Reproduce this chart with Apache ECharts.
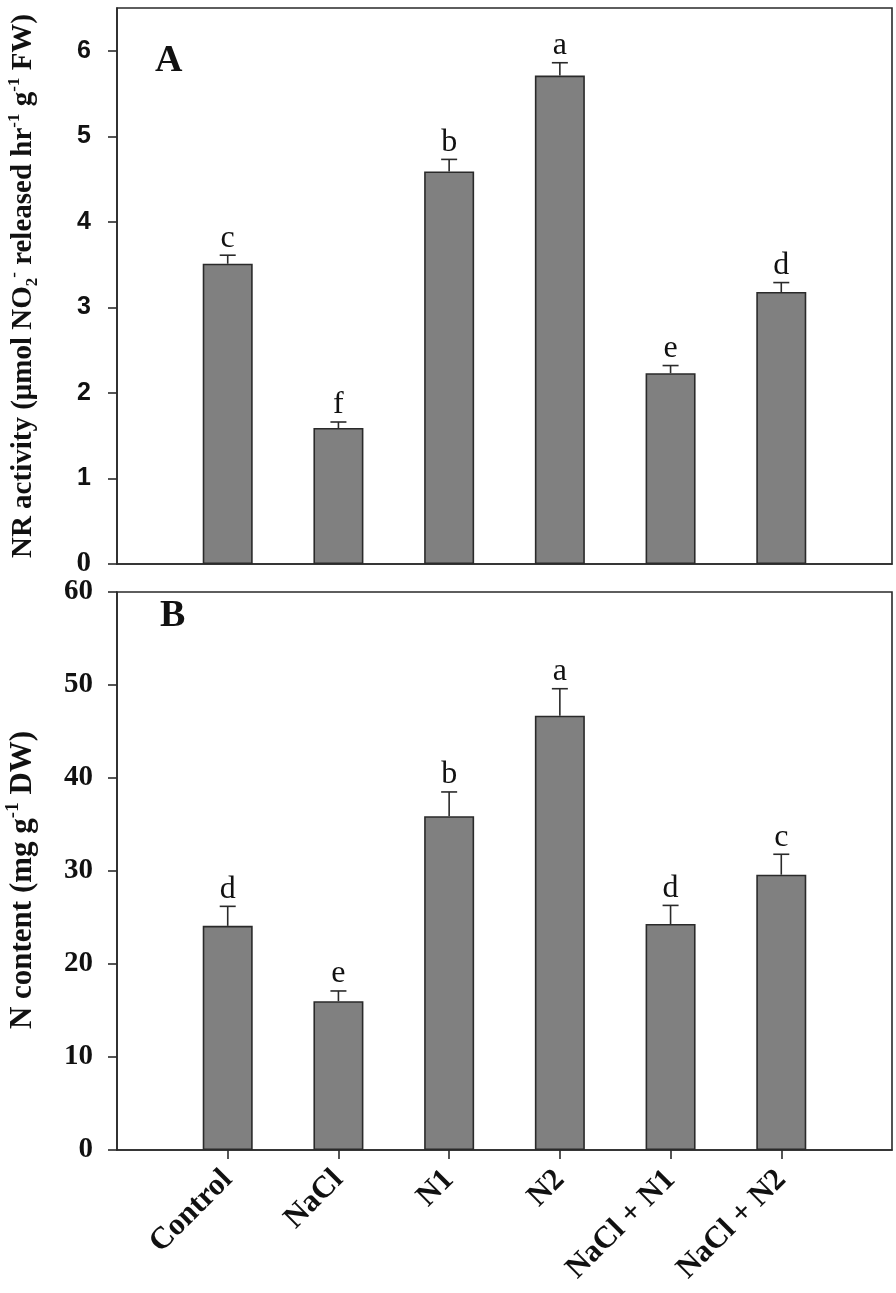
<!DOCTYPE html>
<html><head><meta charset="utf-8">
<script src="https://cdn.jsdelivr.net/npm/echarts@6/dist/echarts.min.js"></script>
<style>html,body{margin:0;padding:0;background:#fff}#c{width:896px;height:1293px}</style>
</head><body><div id="c"></div>
<script>
const categories = ['Control', 'NaCl', 'N1', 'N2', 'NaCl + N1', 'NaCl + N2'];
const nrActivity = [3.51, 1.59, 4.59, 5.71, 2.23, 3.18];
const nrError = [0.10, 0.07, 0.14, 0.15, 0.09, 0.11];
const nrLetters = ['c', 'f', 'b', 'a', 'e', 'd'];
const nContent = [24.1, 16.0, 35.9, 46.7, 24.3, 29.6];
const nError = [2.1, 1.1, 2.6, 2.9, 2.0, 2.2];
const nLetters = ['d', 'e', 'b', 'a', 'd', 'c'];
const nrTicks = [0, 1, 2, 3, 4, 5, 6];
const nTicks = [0, 10, 20, 30, 40, 50, 60];

const SERIF = '"Liberation Serif","Times New Roman",serif';
const SANS = '"Liberation Sans",Arial,sans-serif';
const LINE = '#2a2a2a';

const slots = [''].concat(categories, ['']);
const pad = arr => [null].concat(arr, [null]);

function errRenderer(letters) {
  return function (params, api) {
    const idx = api.value(0), v = api.value(1), e = api.value(2);
    const p0 = api.coord([idx, v]);
    const p1 = api.coord([idx, v + e]);
    const hw = 8;
    return {
      type: 'group',
      children: [
        {type: 'line', shape: {x1: p0[0], y1: p0[1], x2: p1[0], y2: p1[1]}, style: {stroke: LINE, lineWidth: 1.6}},
        {type: 'line', shape: {x1: p1[0] - hw, y1: p1[1], x2: p1[0] + hw, y2: p1[1]}, style: {stroke: LINE, lineWidth: 1.6}},
        {type: 'text', style: {text: letters[params.dataIndex], x: p1[0], y: p1[1] - 1, align: 'center', verticalAlign: 'bottom', fontSize: 32, fontFamily: SERIF, fill: '#111'}}
      ]
    };
  };
}

const tickHide = (i) => i > 0 && i < slots.length - 1;

function richTitle(size) {
  const sub = Math.round(size * 0.6);
  return {
    t: {fontSize: size, fontWeight: 'bold', fontFamily: SERIF, color: '#111', lineHeight: size + 6},
    sup: {fontSize: sub, fontWeight: 'bold', fontFamily: SERIF, color: '#111', verticalAlign: 'top', lineHeight: size + 6},
    sub: {fontSize: sub, fontWeight: 'bold', fontFamily: SERIF, color: '#111', verticalAlign: 'bottom', lineHeight: size + 6}
  };
}

const option = {
  animation: false,
  backgroundColor: '#fff',
  grid: [
    {left: 117, top: 8, width: 775, height: 556, containLabel: false, outerBoundsMode: 'none', show: true, borderColor: LINE, borderWidth: 1.6, backgroundColor: 'transparent'},
    {left: 117, top: 592, width: 775, height: 558, containLabel: false, outerBoundsMode: 'none', show: true, borderColor: LINE, borderWidth: 1.6, backgroundColor: 'transparent'}
  ],
  xAxis: [
    {type: 'category', gridIndex: 0, data: slots, boundaryGap: false,
     axisLine: {lineStyle: {color: LINE, width: 1.6}}, axisTick: {show: false}, axisLabel: {show: false}, splitLine: {show: false}},
    {type: 'category', gridIndex: 1, data: slots, boundaryGap: false,
     axisLine: {lineStyle: {color: LINE, width: 1.6}},
     axisTick: {show: true, length: 9, interval: tickHide, lineStyle: {color: LINE, width: 1.6}},
     axisLabel: {interval: 0, rotate: 45, margin: 25, fontSize: 31, fontWeight: 'bold', fontFamily: SERIF, color: '#111'},
     splitLine: {show: false}}
  ],
  yAxis: [
    {type: 'value', gridIndex: 0, min: 0, max: 6.5,
     axisLine: {show: true, lineStyle: {color: LINE, width: 1.6}},
     axisTick: {show: true, length: 9, customValues: nrTicks, lineStyle: {color: LINE, width: 1.6}},
     axisLabel: {customValues: nrTicks, margin: 26,
       formatter: v => v === 0 ? '{s|0}' : '{n|' + v + '}',
       rich: {s: {fontSize: 29, fontWeight: 'bold', fontFamily: SERIF, color: '#111'},
              n: {fontSize: 25, fontWeight: 'bold', fontFamily: SANS, color: '#111'}}},
     splitLine: {show: false},
     name: '{t|NR activity (μmol NO}{sub|2}{sup|-}{t| released hr}{sup|-1}{t| g}{sup|-1}{t| FW)}',
     nameLocation: 'middle', nameRotate: 90, nameGap: 76,
     nameTextStyle: {rich: richTitle(29)}},
    {type: 'value', gridIndex: 1, min: 0, max: 60, interval: 10,
     axisLine: {show: true, lineStyle: {color: LINE, width: 1.6}},
     axisTick: {show: true, length: 9, customValues: nTicks, lineStyle: {color: LINE, width: 1.6}},
     axisLabel: {customValues: nTicks, margin: 24, fontSize: 29, fontWeight: 'bold', fontFamily: SERIF, color: '#111'},
     splitLine: {show: false},
     name: '{t|N content (mg g}{sup|-1}{t| DW)}',
     nameLocation: 'middle', nameRotate: 90, nameGap: 76,
     nameTextStyle: {padding: [0, 18, 0, 0], rich: richTitle(31)}}
  ],
  series: [
    {type: 'bar', xAxisIndex: 0, yAxisIndex: 0, data: pad(nrActivity), barWidth: 50,
     itemStyle: {color: '#808080', borderColor: LINE, borderWidth: 1.6}},
    {type: 'custom', xAxisIndex: 0, yAxisIndex: 0, renderItem: errRenderer(nrLetters),
     data: nrActivity.map((v, i) => [i + 1, v, nrError[i]]), z: 5},
    {type: 'bar', xAxisIndex: 1, yAxisIndex: 1, data: pad(nContent), barWidth: 50,
     itemStyle: {color: '#808080', borderColor: LINE, borderWidth: 1.6}},
    {type: 'custom', xAxisIndex: 1, yAxisIndex: 1, renderItem: errRenderer(nLetters),
     data: nContent.map((v, i) => [i + 1, v, nError[i]]), z: 5}
  ],
  graphic: [
    {type: 'text', left: 155, top: 42, style: {text: 'A', fontSize: 38, fontWeight: 'bold', fontFamily: SERIF, fill: '#111'}},
    {type: 'text', left: 160, top: 597, style: {text: 'B', fontSize: 38, fontWeight: 'bold', fontFamily: SERIF, fill: '#111'}}
  ]
};
const chart = echarts.init(document.getElementById('c'), null, {renderer: 'canvas'});
chart.setOption(option);
</script></body></html>
